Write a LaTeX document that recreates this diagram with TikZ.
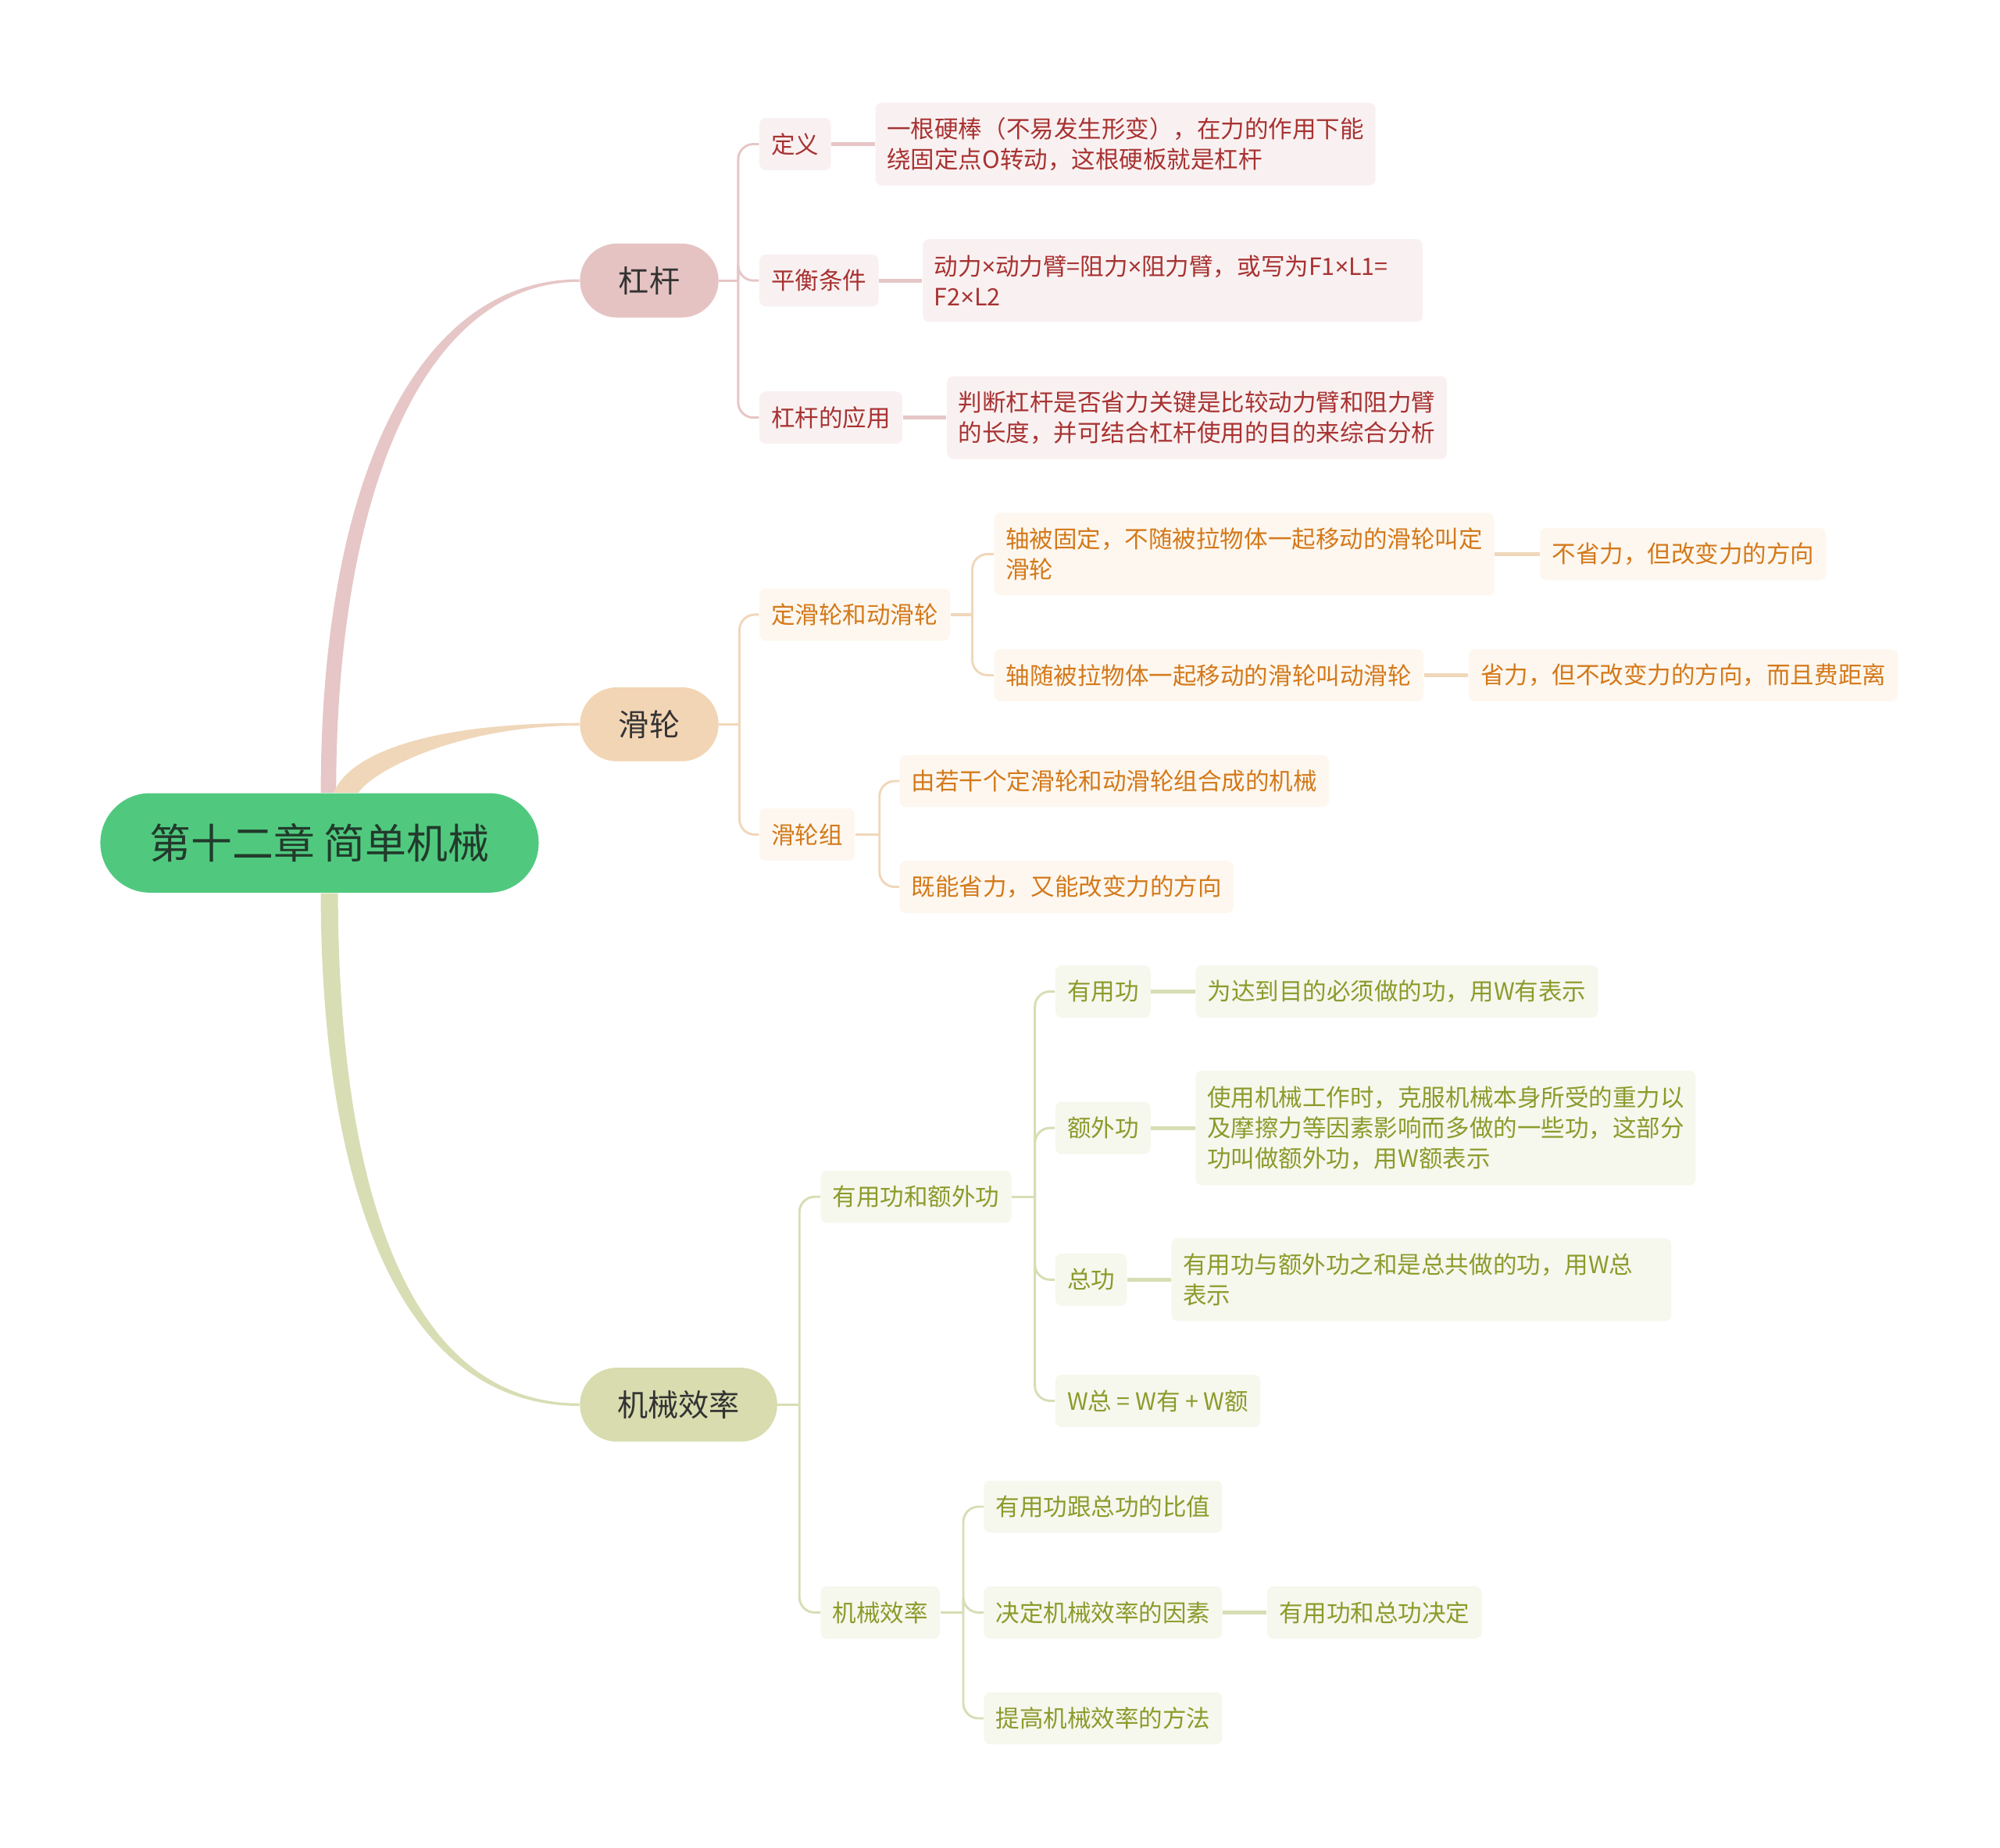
\documentclass[tikz,border=0pt]{standalone}
\usepackage{fontspec}
\setmainfont{Noto Sans CJK SC}
\newfontfamily\latinfont{Noto Sans}
\usetikzlibrary{positioning, calc, shapes.misc}
\newcommand\tms{{\latinfont ×}}
\definecolor{rootfill}{HTML}{50C97F}
\definecolor{roottext}{HTML}{223A2B}
\definecolor{topictext}{HTML}{333333}
\definecolor{pinkmain}{HTML}{E6C3C3}
\definecolor{pinkline}{HTML}{E6C6C6}
\definecolor{pinkbox}{HTML}{F9F1F1}
\definecolor{pinktext}{HTML}{A83232}
\definecolor{peachmain}{HTML}{F2D5B4}
\definecolor{peachline}{HTML}{F0D7BA}
\definecolor{peachbox}{HTML}{FDF7EF}
\definecolor{peachtext}{HTML}{D4791A}
\definecolor{olivemain}{HTML}{D8DCAE}
\definecolor{oliveline}{HTML}{D8DDB4}
\definecolor{olivebox}{HTML}{F6F7ED}
\definecolor{olivetext}{HTML}{8C9B2B}
\tikzset{
  rootnode/.style={rounded rectangle, fill=rootfill, text=roottext, minimum width=178.5pt, minimum height=39pt, font=\fontsize{16.2}{20}\selectfont},
  topic/.style={rounded rectangle, text=topictext, minimum width=61pt, minimum height=29pt, font=\fontsize{12}{14}\selectfont},
  leaf/.style={rectangle, rounded corners=2.5pt, anchor=west, align=left, minimum height=20.5pt, inner xsep=4.65pt, inner ysep=2pt, font=\fontsize{9.35}{12}\selectfont},
  widebox/.style={text width=187pt, inner xsep=4.5pt, minimum height=32.5pt},
  pinkleaf/.style={leaf, fill=pinkbox, text=pinktext},
  peachleaf/.style={leaf, fill=peachbox, text=peachtext},
  oliveleaf/.style={leaf, fill=olivebox, text=olivetext},
  stemline/.style={line width=1pt},
  twigline/.style={line width=1.5pt},
  forkline/.style={line width=0.9pt, rounded corners=6pt},
}
\begin{document}
\begin{tikzpicture}[x=0.5pt, y=-0.5pt]
\useasboundingbox (0,0) rectangle (1568,1449);
% centro
\node[rootnode] (root) at (250.5,661) {第十二章 简单机械};
\node[topic, fill=pinkmain] (ganggan) at (509,220) {杠杆};
\node[topic, fill=peachmain] (hualun) at (509,568) {滑轮};
\node[topic, fill=olivemain, minimum width=84pt] (xiaolv) at (532,1101.5) {机械效率};
% rami principali
\fill[pinkline] ($(root.north)+(1,0)$) .. controls ($(root.north)+(1,-242)$) and ($(ganggan.west)+(-129,-1)$) .. ($(ganggan.west)+(0,-1)$)
  -- ($(ganggan.west)+(0,1)$) .. controls ($(ganggan.west)+(-121,1)$) and ($(root.north)+(13,-237)$) .. ($(root.north)+(13,0)$) -- cycle;
\fill[peachline] ($(root.north)+(11,0)$) .. controls ($(root.north)+(24.5,-32)$) and ($(hualun.west)+(-115,-1)$) .. ($(hualun.west)+(0,-1)$)
  -- ($(hualun.west)+(0,1)$) .. controls ($(hualun.west)+(-95,1)$) and ($(root.north)+(41.5,-17)$) .. ($(root.north)+(30.5,0)$) -- cycle;
\fill[oliveline] ($(root.south)+(1,0)$) .. controls ($(root.south)+(1,200)$) and ($(xiaolv.west)+(-155,1)$) .. ($(xiaolv.west)+(0,1)$)
  -- ($(xiaolv.west)+(0,-1)$) .. controls ($(xiaolv.west)+(-149,-1)$) and ($(root.south)+(14.5,195)$) .. ($(root.south)+(14.5,0)$) -- cycle;
% leva
\node[pinkleaf] (dingyi) at (595,113) {定义};
\node[pinkleaf] (pingheng) at (595,220) {平衡条件};
\node[pinkleaf] (yingyong) at (595,327.5) {杠杆的应用};
\node[pinkleaf, widebox] (dingyiT) at (686,113) {一根硬棒（不易发生形变），在力的作用下能\\绕固定点O转动，这根硬板就是杠杆};
\node[pinkleaf, widebox] (pinghengT) at (723,220) {动力\tms 动力臂=阻力\tms 阻力臂，或写为F1\tms L1=\\F2\tms L2};
\node[pinkleaf, widebox] (yingyongT) at (742,327.5) {判断杠杆是否省力关键是比较动力臂和阻力臂\\的长度，并可结合杠杆使用的目的来综合分析};
\coordinate (gk) at ($(ganggan.east)+(15,0)$);
\draw[pinkline, stemline] (ganggan.east) -- (gk);
\foreach \n in {dingyi,pingheng,yingyong}
  \draw[pinkline, forkline] (gk) |- (\n.west);
\draw[pinkline, twigline] (dingyi) -- (dingyiT);
\draw[pinkline, twigline] (pingheng) -- (pinghengT);
\draw[pinkline, twigline] (yingyong) -- (yingyongT);
% carrucola
\node[peachleaf] (dinghua) at (595,482) {定滑轮和动滑轮};
\node[peachleaf] (hualunzu) at (595,654.5) {滑轮组};
\node[peachleaf, widebox] (dingT) at (779,434.5) {轴被固定，不随被拉物体一起移动的滑轮叫定\\滑轮};
\node[peachleaf] (dingR) at (1207,434.5) {不省力，但改变力的方向};
\node[peachleaf] (dongT) at (779,529.5) {轴随被拉物体一起移动的滑轮叫动滑轮};
\node[peachleaf] (dongR) at (1151,529.5) {省力，但不改变力的方向，而且费距离};
\node[peachleaf] (zu1) at (705,612.5) {由若干个定滑轮和动滑轮组合成的机械};
\node[peachleaf] (zu2) at (705,695.5) {既能省力，又能改变力的方向};
\coordinate (hk) at ($(hualun.east)+(16,0)$);
\draw[peachline, stemline] (hualun.east) -- (hk);
\foreach \n in {dinghua,hualunzu}
  \draw[peachline, forkline] (hk) |- (\n.west);
\coordinate (dk) at ($(dinghua.east)+(17,0)$);
\draw[peachline, stemline] (dinghua.east) -- (dk);
\foreach \n in {dingT,dongT}
  \draw[peachline, forkline] (dk) |- (\n.west);
\coordinate (zk) at ($(hualunzu.east)+(19,0)$);
\draw[peachline, stemline] (hualunzu.east) -- (zk);
\foreach \n in {zu1,zu2}
  \draw[peachline, forkline] (zk) |- (\n.west);
\draw[peachline, twigline] (dingT) -- (dingR);
\draw[peachline, twigline] (dongT) -- (dongR);
% rendimento
\node[oliveleaf] (gongfen) at (643,938.5) {有用功和额外功};
\node[oliveleaf] (xiaolvsub) at (643,1264.5) {机械效率};
\node[oliveleaf] (youyong) at (827,777.5) {有用功};
\node[oliveleaf] (ewai) at (827,884.5) {额外功};
\node[oliveleaf] (zong) at (827,1003.5) {总功};
\node[oliveleaf] (wsum) at (827,1098.5) {W总\kern2pt=\kern2pt W有\kern2pt+\kern2pt W额};
\node[oliveleaf] (youyongT) at (937,777.5) {为达到目的必须做的功，用W有表示};
\node[oliveleaf, widebox, minimum height=45pt] (ewaiT) at (937,884.5) {使用机械工作时，克服机械本身所受的重力以\\及摩擦力等因素影响而多做的一些功，这部分\\功叫做额外功，用W额表示};
\node[oliveleaf, widebox] (zongT) at (918,1003.5) {有用功与额外功之和是总共做的功，用W总\\表示};
\node[oliveleaf] (bizhi) at (771,1181.5) {有用功跟总功的比值};
\node[oliveleaf] (yinsu) at (771,1264.5) {决定机械效率的因素};
\node[oliveleaf] (yinsuT) at (993,1264.5) {有用功和总功决定};
\node[oliveleaf] (fangfa) at (771,1347.5) {提高机械效率的方法};
\coordinate (xk) at ($(xiaolv.east)+(17,0)$);
\draw[oliveline, stemline] (xiaolv.east) -- (xk);
\foreach \n in {gongfen,xiaolvsub}
  \draw[oliveline, forkline] (xk) |- (\n.west);
\coordinate (fk) at ($(gongfen.east)+(18,0)$);
\draw[oliveline, stemline] (gongfen.east) -- (fk);
\foreach \n in {youyong,ewai,zong,wsum}
  \draw[oliveline, forkline] (fk) |- (\n.west);
\coordinate (sk) at ($(xiaolvsub.east)+(18,0)$);
\draw[oliveline, stemline] (xiaolvsub.east) -- (sk);
\foreach \n in {bizhi,yinsu,fangfa}
  \draw[oliveline, forkline] (sk) |- (\n.west);
\draw[oliveline, twigline] (youyong) -- (youyongT);
\draw[oliveline, twigline] (ewai) -- (ewaiT);
\draw[oliveline, twigline] (zong) -- (zongT);
\draw[oliveline, twigline] (yinsu) -- (yinsuT);
\end{tikzpicture}
\end{document}
